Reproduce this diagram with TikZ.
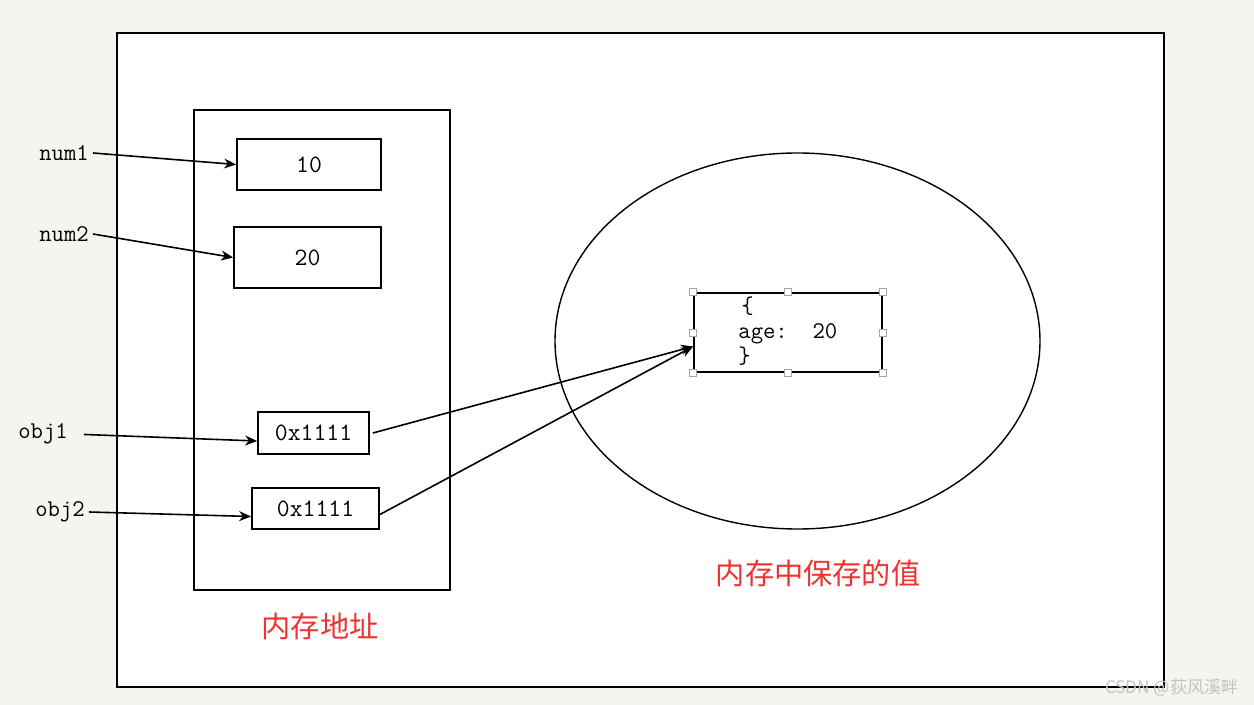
\documentclass[tikz,border=0pt]{standalone}
\usepackage{fontspec}
\newfontfamily\cjkfont{Noto Sans CJK SC}
\usetikzlibrary{arrows.meta}

\definecolor{memred}{RGB}{238,50,50}
\definecolor{pagebg}{RGB}{245,244,240}
\definecolor{markgray}{RGB}{195,195,195}

\tikzset{
  cell/.style={draw, line width=0.9pt, inner sep=0pt, font=\fontsize{12.5}{14}\selectfont\ttfamily},
  varname/.style={font=\fontsize{12}{14}\selectfont\ttfamily, inner sep=2pt},
  memnote/.style={text=memred, font=\fontsize{14.6}{16}\selectfont\cjkfont},
  handle/.style={draw=gray!70, line width=0.4pt, fill=white},
}

\begin{document}
\begin{tikzpicture}[x=0.5pt,y=-0.5pt,>={Stealth[length=6pt,width=5pt]}]
        \useasboundingbox (0,0) rectangle (1254,705);
        \fill[pagebg] (0,0) rectangle (1254,705);
        \fill[white] (117,33) rectangle (1164,687);
        \draw[line width=0.9pt] (117,33) rectangle (1164,687);
        % stack area
        \draw[line width=0.9pt] (194,110) rectangle (450,590);
        \node[cell, minimum width=72pt, minimum height=25.5pt] (cell10) at (309,164.5) {10};
        \node[cell, minimum width=73.5pt, minimum height=30.5pt] (cell20) at (307.5,257.5) {20};
        \node[cell, minimum width=55.5pt, minimum height=21pt] (ref1) at (313.5,433) {0x1111};
        \node[cell, minimum width=63.5pt, minimum height=20.5pt] (ref2) at (315.5,508.5) {0x1111};
        \node[memnote] (stacknote) at (320,626) {内存地址};
        % heap area
        \draw[line width=0.7pt] (797.5,341) ellipse [x radius=242.5, y radius=188];
        \node[cell, minimum width=94pt, minimum height=39.5pt] (obj) at (788,332.5) {};
        \foreach \a in {north west,north,north east,east,south east,south,south west,west}
            \draw[handle] (obj.\a) ++(-3.5,-3.5) rectangle ++(7,7);
        \node[varname, anchor=west, inner sep=0pt] (objopen) at (741,306) {\{};
        \node[varname, anchor=west, inner sep=0pt] (objage) at (738,334) {age:\ \ 20};
        \node[varname, anchor=west, inner sep=0pt] (objclose) at (738,356) {\}};
        \node[memnote] (heapnote) at (818,573) {内存中保存的值};
        % variables
        \node[varname] (num1) at (64,153) {num1};
        \node[varname] (num2) at (64,234) {num2};
        \node[varname] (obj1) at (43,434) {obj1};
        \node[varname] (obj2) at (60,512) {obj2};
        \coordinate (hit) at ([yshift=-7pt]obj.west);
        \draw[->, line width=0.8pt] (num1.east) -- (cell10.west);
        \draw[->, line width=0.8pt] (num2.east) -- (cell20.west);
        \draw[->, line width=0.8pt, shorten <=6pt] (obj1.east) -- ([yshift=-4pt]ref1.west);
        \draw[->, line width=0.8pt] (obj2.east) -- ([yshift=-4pt]ref2.west);
        \draw[->, line width=0.8pt] ([xshift=1.5pt]ref1.east) -- (hit);
        \draw[->, line width=0.8pt] ([yshift=-3pt]ref2.east) -- (hit);
        \node[anchor=west, text=markgray, font=\fontsize{8.6}{10}\selectfont\cjkfont] (mark) at (1098,688) {CSDN @荻风溪畔};
    \end{tikzpicture}
\end{document}
